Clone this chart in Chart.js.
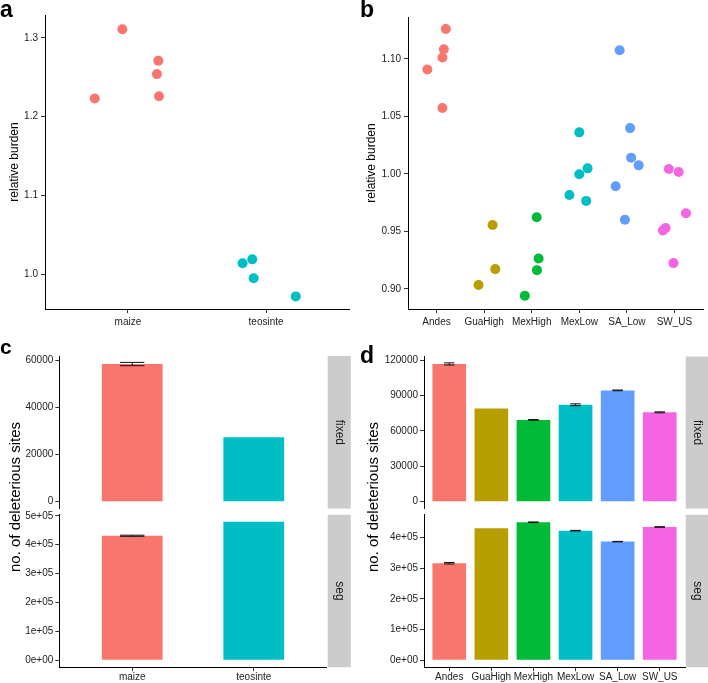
<!DOCTYPE html>
<html><head><meta charset="utf-8">
<script src="https://cdn.jsdelivr.net/npm/chart.js@4.4.1/dist/chart.umd.min.js"></script>
<style>
html,body{margin:0;padding:0;background:#fff;}
#wrap{position:relative;width:708px;height:683px;overflow:hidden;font-family:"Liberation Sans",Arial,Helvetica,sans-serif;}
canvas{position:absolute;}
.lbl{position:absolute;font-weight:bold;font-size:23px;line-height:22px;color:#000;}
.ytitle{position:absolute;font-size:15px;line-height:15px;color:#000;white-space:nowrap;transform:translate(-50%,-50%) rotate(-90deg);}
</style></head>
<body><div id="wrap">
<canvas id="cA" width="354" height="340" style="left:0;top:0"></canvas>
<canvas id="cB" width="354" height="340" style="left:354px;top:0"></canvas>
<canvas id="cC1" width="354" height="170" style="left:0;top:340px"></canvas>
<canvas id="cC2" width="354" height="173" style="left:0;top:510px"></canvas>
<canvas id="cD1" width="354" height="170" style="left:354px;top:340px"></canvas>
<canvas id="cD2" width="354" height="173" style="left:354px;top:510px"></canvas>
<div class="lbl" style="left:0;top:-2px">a</div>
<div class="lbl" style="left:360px;top:-2px">b</div>
<div class="lbl" style="left:0;top:336px;font-size:21px">c</div>
<div class="lbl" style="left:360px;top:344px">d</div>
<div class="ytitle" style="left:14px;top:497px">no. of deleterious sites</div>
<div class="ytitle" style="left:372px;top:497px">no. of deleterious sites</div>
</div>
<script>
// ---------- data ----------
const groupsA = ["maize", "teosinte"];
const burdenMaize = [1.311, 1.271, 1.254, 1.226, 1.223];
const jitterMaize = [-0.04, 0.22, 0.21, 0.225, -0.24];
const burdenTeosinte = [1.019, 1.014, 0.995, 0.972];
const jitterTeosinte = [-0.10, -0.17, -0.09, 0.215];
const ticksA = [1.0, 1.1, 1.2, 1.3];

const regions = ["Andes", "GuaHigh", "MexHigh", "MexLow", "SA_Low", "SW_US"];
const burdenAndes = [1.126, 1.1085, 1.1013, 1.0909, 1.0573];
const jitterAndes = [0.195, 0.153, 0.124, -0.193, 0.124];
const burdenGuaHigh = [0.9557, 0.9173, 0.9034];
const jitterGuaHigh = [0.178, 0.234, -0.118];
const burdenMexHigh = [0.9624, 0.9265, 0.9164, 0.8941];
const jitterMexHigh = [0.104, 0.145, 0.11, -0.145];
const burdenMexLow = [1.0362, 1.0049, 0.9997, 0.9818, 0.9766];
const jitterMexLow = [0.0, 0.174, 0.0, -0.207, 0.145];
const burdenSALow = [1.1076, 1.0399, 1.0142, 1.0075, 0.9893, 0.9603];
const jitterSALow = [-0.152, 0.068, 0.089, 0.248, -0.236, -0.041];
const burdenSWUS = [1.0043, 1.0017, 0.9659, 0.9531, 0.9508, 0.9225];
const jitterSWUS = [-0.118, 0.089, 0.242, -0.186, -0.242, -0.021];
const ticksB = [0.90, 0.95, 1.00, 1.05, 1.10];

const fixedA = [58300, 27300];
const fixedAErr = [700, 0];
const segA = [431000, 479600];
const segAErr = [2000, 0];
const ticksFixedA = [0, 20000, 40000, 60000];
const ticksSegA = [0, 100000, 200000, 300000, 400000, 500000];

const fixedB = [116700, 79000, 69300, 82100, 94300, 75700];
const fixedBErr = [900, 0, 300, 800, 300, 400];
const segB = [315500, 429500, 448800, 421400, 385800, 433400];
const segBErr = [2500, 0, 1000, 1000, 800, 1000];
const ticksFixedB = [0, 30000, 60000, 90000, 120000];
const ticksSegB = [0, 100000, 200000, 300000, 400000];

// ---------- styling ----------
const FONT = "'Liberation Sans', Arial, Helvetica, sans-serif";
Chart.defaults.font.family = FONT;
Chart.defaults.color = '#222';
Chart.defaults.animation = false;
const hue2 = ['#F8766D', '#00BFC4'];
const hue6 = ['#F8766D', '#B79F00', '#00BA38', '#00BFC4', '#619CFF', '#F564E3'];

function fitW(w) { return s => { s.width = w; s.paddingTop = 0; s.paddingBottom = 0; }; }
function fitH(h) { return s => { s.height = h; s.paddingLeft = 0; s.paddingRight = 0; }; }
function catTicks(n) { return s => { s.ticks = Array.from({length: n}, (_, i) => ({value: i + 1})); }; }
function valTicks(arr) { return s => { s.ticks = arr.map(v => ({value: v})); }; }
function sci(v) {
  const parts = Number(v).toExponential(0).split('e');
  const e = +parts[1];
  return parts[0] + 'e' + (e < 0 ? '-' : '+') + String(Math.abs(e)).padStart(2, '0');
}
const axisBase = () => ({
  offset: false,
  border: {display: true, color: '#000', width: 1},
  grid: {display: true, offset: false, drawOnChartArea: false, drawTicks: true, tickLength: 4, tickColor: '#333', tickWidth: 1}
});
const noPlug = {legend: {display: false}, tooltip: {enabled: false}};

function makeErrorBars(errs, cap) {
  return {
    id: 'errorBars',
    afterDatasetsDraw(chart) {
      const xs = chart.scales.x, ys = chart.scales.y, ctx = chart.ctx;
      const vals = chart.data.datasets[0].data;
      const half = xs.getPixelForValue(1 + cap / 2) - xs.getPixelForValue(1);
      ctx.save();
      ctx.strokeStyle = '#111';
      ctx.lineWidth = 1;
      errs.forEach((e, i) => {
        if (!e) return;
        const p = vals[i];
        const x = xs.getPixelForValue(p.x);
        const y1 = ys.getPixelForValue(p.y - e), y2 = ys.getPixelForValue(p.y + e);
        ctx.beginPath();
        ctx.moveTo(x, y1); ctx.lineTo(x, y2);
        ctx.moveTo(x - half, y1); ctx.lineTo(x + half, y1);
        ctx.moveTo(x - half, y2); ctx.lineTo(x + half, y2);
        ctx.stroke();
      });
      ctx.restore();
    }
  };
}
function makeStrip(text, gap, w) {
  return {
    id: 'strip',
    afterDraw(chart) {
      const {top, bottom, right} = chart.chartArea;
      const ctx = chart.ctx;
      ctx.save();
      ctx.fillStyle = '#cccccc';
      ctx.fillRect(right + gap, top, w, bottom - top);
      ctx.translate(right + gap + w / 2, (top + bottom) / 2);
      ctx.rotate(Math.PI / 2);
      ctx.fillStyle = '#1a1a1a';
      ctx.font = '12px ' + FONT;
      ctx.textAlign = 'center';
      ctx.textBaseline = 'middle';
      ctx.fillText(text, 0, 0);
      ctx.restore();
    }
  };
}
function pts(vals, jit, center) { return vals.map((v, i) => ({x: center + jit[i], y: v})); }

// ---------- panel a ----------
new Chart(document.getElementById('cA'), {
  type: 'scatter',
  data: {datasets: [
    {data: pts(burdenMaize, jitterMaize, 1), backgroundColor: hue2[0]},
    {data: pts(burdenTeosinte, jitterTeosinte, 2), backgroundColor: hue2[1]}
  ]},
  options: {
    responsive: false, animation: false,
    layout: {padding: {top: 15, right: 3, left: 0, bottom: 0}},
    elements: {point: {radius: 5, hoverRadius: 5, borderWidth: 0}},
    plugins: noPlug,
    scales: {
      x: Object.assign(axisBase(), {type: 'linear', min: 0.4, max: 2.6,
        afterBuildTicks: catTicks(2), afterFit: fitH(31),
        ticks: {callback: v => groupsA[Math.round(v) - 1], font: {size: 10}, padding: 3, maxRotation: 0, autoSkip: false}}),
      y: Object.assign(axisBase(), {type: 'linear', min: 0.956, max: 1.329,
        afterBuildTicks: valTicks(ticksA), afterFit: fitW(45),
        ticks: {callback: v => Number(v).toFixed(1), font: {size: 10}, padding: 3},
        title: {display: true, text: 'relative burden', font: {size: 12}, color: '#000', padding: {top: 7, bottom: 0}}})
    }
  }
});

// ---------- panel b ----------
const bGroups = [
  [burdenAndes, jitterAndes], [burdenGuaHigh, jitterGuaHigh], [burdenMexHigh, jitterMexHigh],
  [burdenMexLow, jitterMexLow], [burdenSALow, jitterSALow], [burdenSWUS, jitterSWUS]
];
new Chart(document.getElementById('cB'), {
  type: 'scatter',
  data: {datasets: bGroups.map((g, i) => ({data: pts(g[0], g[1], i + 1), backgroundColor: hue6[i]}))},
  options: {
    responsive: false, animation: false,
    layout: {padding: {top: 17, right: 1, left: 0, bottom: 0}},
    elements: {point: {radius: 5, hoverRadius: 5, borderWidth: 0}},
    plugins: noPlug,
    scales: {
      x: Object.assign(axisBase(), {type: 'linear', min: 0.4, max: 6.6,
        afterBuildTicks: catTicks(6), afterFit: fitH(31),
        ticks: {callback: v => regions[Math.round(v) - 1], font: {size: 10}, padding: 3, maxRotation: 0, autoSkip: false}}),
      y: Object.assign(axisBase(), {type: 'linear', min: 0.8826, max: 1.1365,
        afterBuildTicks: valTicks(ticksB), afterFit: fitW(54),
        ticks: {callback: v => Number(v).toFixed(2), font: {size: 10}, padding: 3},
        title: {display: true, text: 'relative burden', font: {size: 12}, color: '#000', padding: {top: 10.5, bottom: 0}}})
    }
  }
});

// ---------- bar helper ----------
function barChart(id, vals, errs, cats, colors, barPct, cap, yMin, yMax, yTicks, yFmt, yW, padTop, padRight, padBottom, showX, xH, stripText, stripGap, stripW) {
  const xOpts = Object.assign(axisBase(), {type: 'linear', min: 0.4, max: cats.length + 0.6,
    afterBuildTicks: catTicks(cats.length),
    ticks: {callback: v => cats[Math.round(v) - 1], font: {size: 10}, padding: 0, maxRotation: 0, autoSkip: false}});
  if (showX) { xOpts.afterFit = fitH(xH); } else { xOpts.display = false; }
  new Chart(document.getElementById(id), {
    type: 'bar',
    data: {datasets: [{
      data: vals.map((v, i) => ({x: i + 1, y: v})),
      backgroundColor: colors, borderWidth: 0,
      barPercentage: barPct, categoryPercentage: 1
    }]},
    options: {
      responsive: false, animation: false,
      layout: {padding: {top: padTop, right: padRight, left: 0, bottom: padBottom}},
      plugins: noPlug,
      scales: {
        x: xOpts,
        y: Object.assign(axisBase(), {type: 'linear', min: yMin, max: yMax,
          afterBuildTicks: valTicks(yTicks), afterFit: fitW(yW),
          ticks: {callback: yFmt, font: {size: 10}, padding: 2}})
      }
    },
    plugins: [makeErrorBars(errs, cap), makeStrip(stripText, stripGap, stripW)]
  });
}

// ---------- panel c ----------
barChart('cC1', fixedA, fixedAErr, groupsA, hue2, 0.5, 0.2, -2920, 61700, ticksFixedA, v => String(v), 59.3, 16, 27.3, 1.4, false, 0, 'fixed', 1, 23);
barChart('cC2', segA, segAErr, groupsA, hue2, 0.5, 0.2, -23900, 503500, ticksSegA, sci, 59.3, 4.8, 27.3, 0, true, 15.8, 'seg', 1, 23);

// ---------- panel d ----------
barChart('cD1', fixedB, fixedBErr, regions, hue6, 0.8, 0.25, -5850, 123000, ticksFixedB, v => String(v), 70, 16.5, 23, 1.4, false, 0, 'fixed', 0.7, 22.3);
barChart('cD2', segB, segBErr, regions, hue6, 0.8, 0.25, -22500, 473000, ticksSegB, sci, 70, 4.8, 23, 0, true, 15.8, 'seg', 0.7, 22.3);
</script>
</body></html>
